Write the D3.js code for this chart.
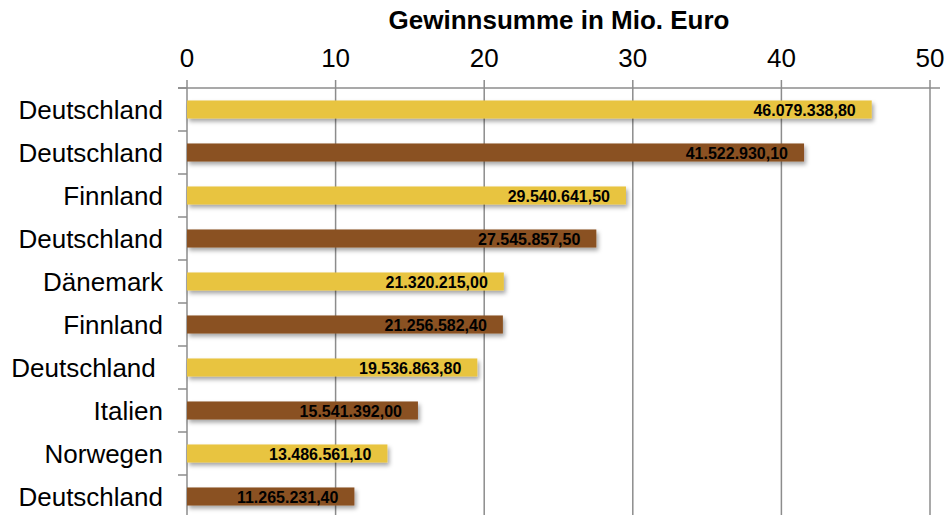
<!DOCTYPE html>
<html lang="de">
<head>
<meta charset="UTF-8">
<title>Gewinnsumme</title>
<script src="https://d3js.org/d3.v7.min.js"></script>
<style>
  body { margin: 0; background: white; }
  svg { display: block; font-family: "Liberation Sans", Arial, sans-serif; }
</style>
</head>
<body>
<svg></svg>
<script>
// data
var countries = ["Deutschland", "Deutschland", "Finnland", "Deutschland", "Dänemark",
                 "Finnland", "Deutschland ", "Italien", "Norwegen", "Deutschland"];
var amounts = [46079338.80, 41522930.10, 29540641.50, 27545857.50, 21320215.00,
               21256582.40, 19536863.80, 15541392.00, 13486561.10, 11265231.40];
var xTicks = [0, 10, 20, 30, 40, 50];
var barColors = ["#E8C440", "#8A5122"];

var width = 947, height = 515;
var svg = d3.select("svg").attr("width", width).attr("height", height);

// plot area (note: "top" is reserved on window, so use plotTop)
var plotLeft = 187, plotRight = 930, plotTop = 88, bandH = 43;

var x = d3.scaleLinear().domain([0, 50]).range([plotLeft, plotRight]);
var y = d3.scaleBand().domain(d3.range(countries.length))
    .range([plotTop, plotTop + bandH * countries.length]).paddingInner(0.58).paddingOuter(0.29);

var fmt = function(v) {
    var s = d3.format(",.2f")(v);
    return s.replace(/,/g, "#").replace(".", ",").replace(/#/g, ".");
};

// shadow filter
var defs = svg.append("defs");
var f = defs.append("filter").attr("id", "shadow")
    .attr("x", "-5%").attr("y", "-30%").attr("width", "115%").attr("height", "190%");
f.append("feDropShadow").attr("dx", 2).attr("dy", 3).attr("stdDeviation", 2)
    .attr("flood-color", "#000").attr("flood-opacity", 0.35);

// title
svg.append("text").attr("x", 559).attr("y", 29).attr("text-anchor", "middle")
    .style("font-size", "26px").style("font-weight", "bold").text("Gewinnsumme in Mio. Euro");

// vertical gridlines
svg.append("g").selectAll("line").data(xTicks).enter().append("line")
    .attr("x1", d => x(d)).attr("x2", d => x(d))
    .attr("y1", plotTop - 8).attr("y2", height)
    .attr("stroke", "#8c8c8c").attr("stroke-width", 1.5);

// top axis line
svg.append("line").attr("x1", plotLeft - 9).attr("x2", plotRight + 10)
    .attr("y1", plotTop).attr("y2", plotTop).attr("stroke", "#8c8c8c").attr("stroke-width", 1.5);

// x tick labels
svg.append("g").selectAll("text").data(xTicks).enter().append("text")
    .attr("x", d => x(d)).attr("y", 67).attr("text-anchor", "middle")
    .style("font-size", "26px").text(d => d);

// left axis ticks between categories
svg.append("g").selectAll("line").data(d3.range(countries.length + 1)).enter().append("line")
    .attr("x1", plotLeft - 9).attr("x2", plotLeft)
    .attr("y1", d => plotTop + d * bandH).attr("y2", d => plotTop + d * bandH)
    .attr("stroke", "#8c8c8c").attr("stroke-width", 1.5);

// bars
svg.append("g").selectAll("rect").data(amounts).enter().append("rect")
    .attr("x", x(0)).attr("y", (d, i) => y(i))
    .attr("width", d => x(d / 1e6) - x(0)).attr("height", y.bandwidth())
    .attr("fill", (d, i) => barColors[i % 2]).attr("filter", "url(#shadow)");

// value labels
svg.append("g").selectAll("text").data(amounts).enter().append("text")
    .attr("x", d => x(d / 1e6) - 16).attr("y", (d, i) => y(i) + y.bandwidth() / 2 + 6)
    .attr("text-anchor", "end").style("font-size", "16px").style("font-weight", "bold")
    .text(d => fmt(d));

// category labels
svg.append("g").selectAll("text").data(countries).enter().append("text")
    .attr("x", 163).attr("y", (d, i) => y(i) + y.bandwidth() / 2 + 9)
    .attr("text-anchor", "end").style("font-size", "26px").style("white-space", "pre")
    .text(d => d);
</script>
</body>
</html>
